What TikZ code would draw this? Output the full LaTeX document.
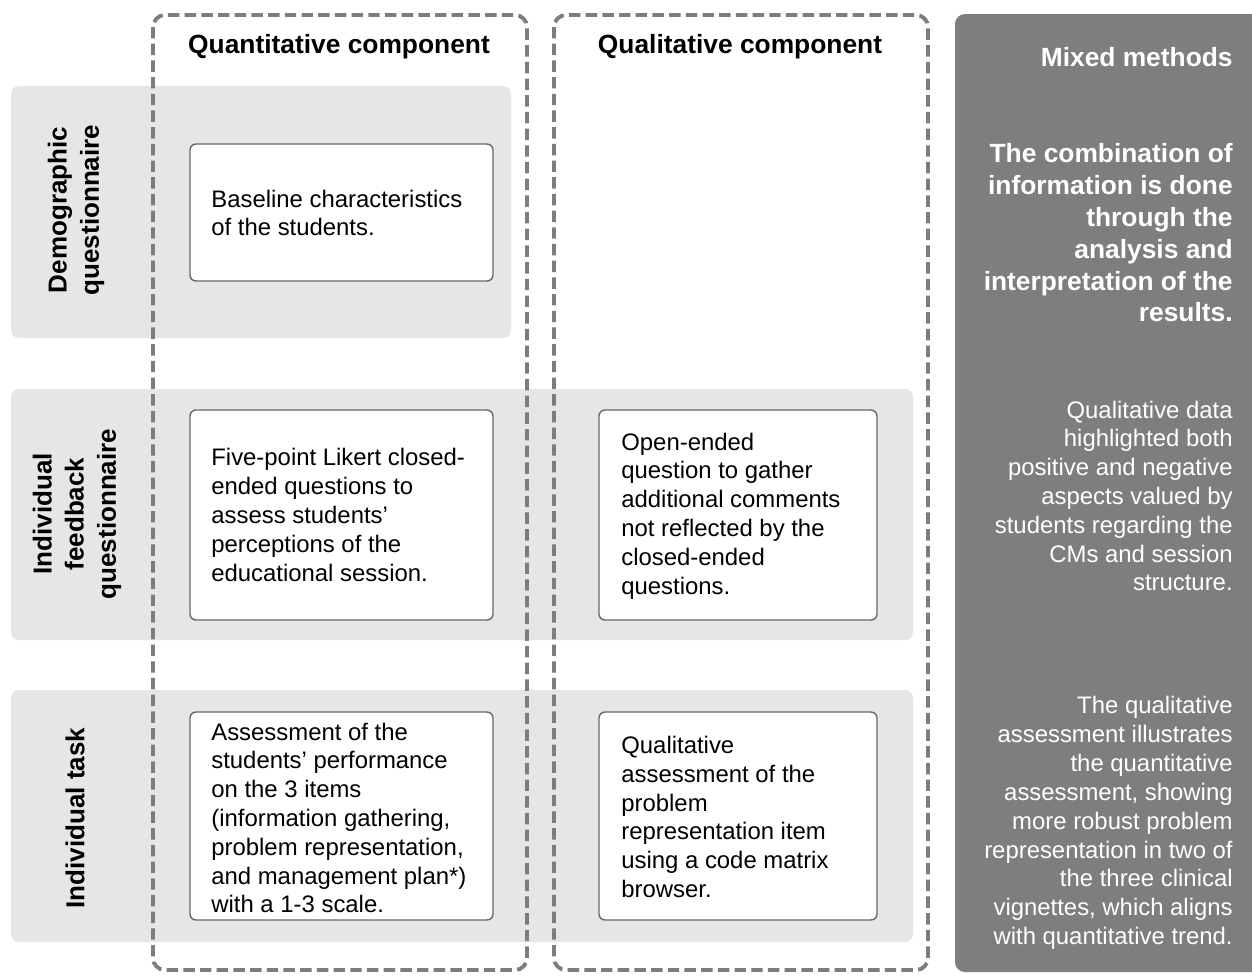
\documentclass[tikz,border=0pt]{standalone}
\usepackage{fontspec}
\setmainfont{Liberation Sans}
\definecolor{bandgray}{RGB}{230,230,230}
\definecolor{panelgray}{RGB}{126,126,126}
\definecolor{dashgray}{RGB}{125,125,125}
\definecolor{boxborder}{RGB}{105,105,105}
\tikzset{
  band/.style={fill=bandgray, rounded corners=0.16cm},
  dashbox/.style={draw=dashgray, line width=2.2pt, dash pattern=on 6.5pt off 3pt, rounded corners=0.24cm},
  panel/.style={fill=panelgray, rounded corners=0.2cm},
  whitebox/.style={draw=boxborder, fill=white, line width=0.8pt, rounded corners=0.12cm},
  boxtext/.style={anchor=west, align=left, inner sep=0pt, font=\fontsize{13.6pt}{16.4pt}\selectfont},
  header/.style={inner sep=0pt, font=\fontsize{15pt}{18pt}\selectfont\bfseries},
  rowlab/.style={inner sep=0pt, rotate=90, align=center, font=\fontsize{14.8pt}{18.3pt}\selectfont\bfseries},
  paneltext/.style={anchor=east, align=right, inner sep=0pt, text=white, font=\fontsize{13.6pt}{16.4pt}\selectfont},
  panelbold/.style={anchor=east, align=right, inner sep=0pt, text=white, font=\fontsize{15pt}{18.1pt}\selectfont\bfseries},
}
\begin{document}
\begin{tikzpicture}[x=0.02cm, y=-0.02cm]
\useasboundingbox (0,0) rectangle (1252,975);
% bands
\fill[band] (11,86) rectangle (511,338);
\fill[band] (11,389) rectangle (913,640);
\fill[band] (11,690) rectangle (913,942);
% right panel
\fill[panel] (955,14) rectangle (1270,972);
% dashed component boxes
\draw[dashbox] (153,15) rectangle (527,970);
\draw[dashbox] (554,15) rectangle (928,970);
% headers
\node[header] (hquan) at (339,47) {Quantitative component};
\node[header] (hqual) at (740,47) {Qualitative component};
% row labels
\node[rowlab] (r1) at (76,210) {Demographic\\questionnaire};
\node[rowlab] (r2) at (77,514) {Individual\\feedback\\questionnaire};
\node[rowlab] (r3) at (75,818) {Individual task};
% white boxes
\draw[whitebox] (190,144) rectangle (493,281);
\draw[whitebox] (190,410) rectangle (493,620);
\draw[whitebox] (599,410) rectangle (877,620);
\draw[whitebox] (190,712) rectangle (493,920);
\draw[whitebox] (599,712) rectangle (877,920);
\node[boxtext] (t1) at (211,213) {Baseline characteristics\\of the students.};
\node[boxtext] (t2) at (211,515) {Five-point Likert closed-\\ended questions to\\assess students’\\perceptions of the\\educational session.};
\node[boxtext] (t3) at (621,516) {Open-ended\\question to gather\\additional comments\\not reflected by the\\closed-ended\\questions.};
\node[boxtext] (t4) at (211,818) {Assessment of the\\students’ performance\\on the 3 items\\(information gathering,\\problem representation,\\and management plan*)\\with a 1-3 scale.};
\node[boxtext] (t5) at (621,817) {Qualitative\\assessment of the\\problem\\representation item\\using a code matrix\\browser.};
% panel texts
\node[panelbold] (m0) at (1233,57) {Mixed methods};
\node[panelbold] (m1) at (1233,233) {The combination of\\information is done\\through the\\analysis and\\interpretation of the\\results.};
\node[paneltext] (m2) at (1233,496) {Qualitative data\\highlighted both\\positive and negative\\aspects valued by\\students regarding the\\CMs and session\\structure.};
\node[paneltext] (m3) at (1233,823) {The qualitative\\assessment illustrates\\the quantitative\\assessment, showing\\more robust problem\\representation in two of\\the three clinical\\vignettes, which aligns\\with quantitative trend.};
\end{tikzpicture}
\end{document}
